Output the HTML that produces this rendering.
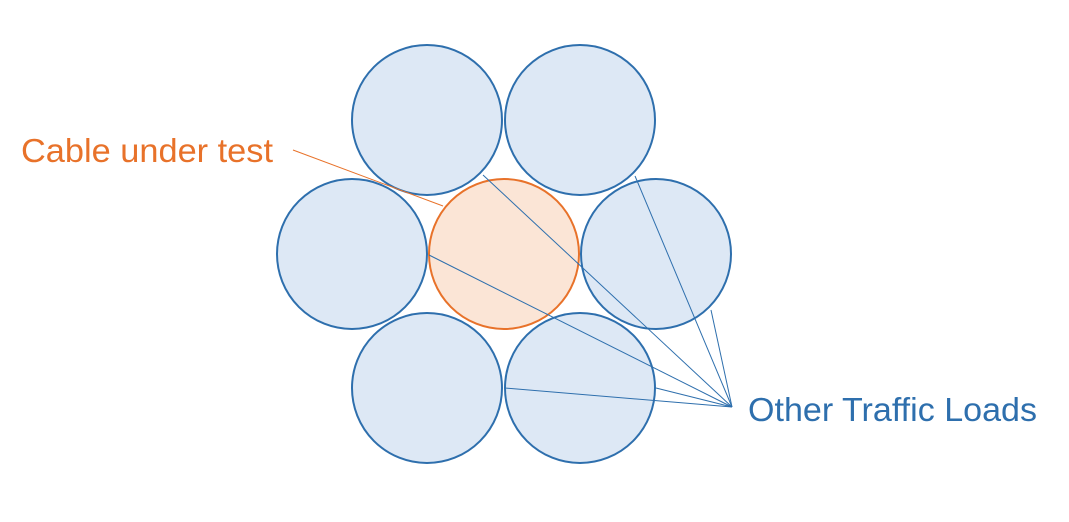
<!DOCTYPE html><html><head><style>body{margin:0;background:#fff}</style></head><body>
<svg width="1069" height="517" xmlns="http://www.w3.org/2000/svg">
<g stroke="#2e6fad" stroke-width="2" fill="#dde8f5">
<circle cx="427" cy="120" r="75"/><circle cx="580" cy="120" r="75"/>
<circle cx="352" cy="254" r="75"/><circle cx="656" cy="254" r="75"/>
<circle cx="427" cy="388" r="75"/><circle cx="580" cy="388" r="75"/>
</g>
<circle cx="504" cy="254" r="75" fill="#fbe5d6" stroke="#e8722a" stroke-width="2"/>
<line x1="293" y1="150" x2="443" y2="206" stroke="#e8722a" stroke-width="1"/>
<g stroke="#2e6fad" stroke-width="1">
<line x1="483" y1="175" x2="732" y2="407"/><line x1="635" y1="176" x2="732" y2="407"/>
<line x1="429" y1="255" x2="732" y2="407"/><line x1="505" y1="388" x2="732" y2="407"/>
<line x1="711" y1="310" x2="732" y2="407"/><line x1="656" y1="388" x2="732" y2="407"/>
</g>
<text x="21" y="162" font-family="Liberation Sans, sans-serif" font-size="33" fill="#e8722a" textLength="252" lengthAdjust="spacingAndGlyphs">Cable under test</text>
<text x="748" y="421" font-family="Liberation Sans, sans-serif" font-size="33" fill="#2e6fad" textLength="289" lengthAdjust="spacingAndGlyphs">Other Traffic Loads</text>
</svg></body></html>
